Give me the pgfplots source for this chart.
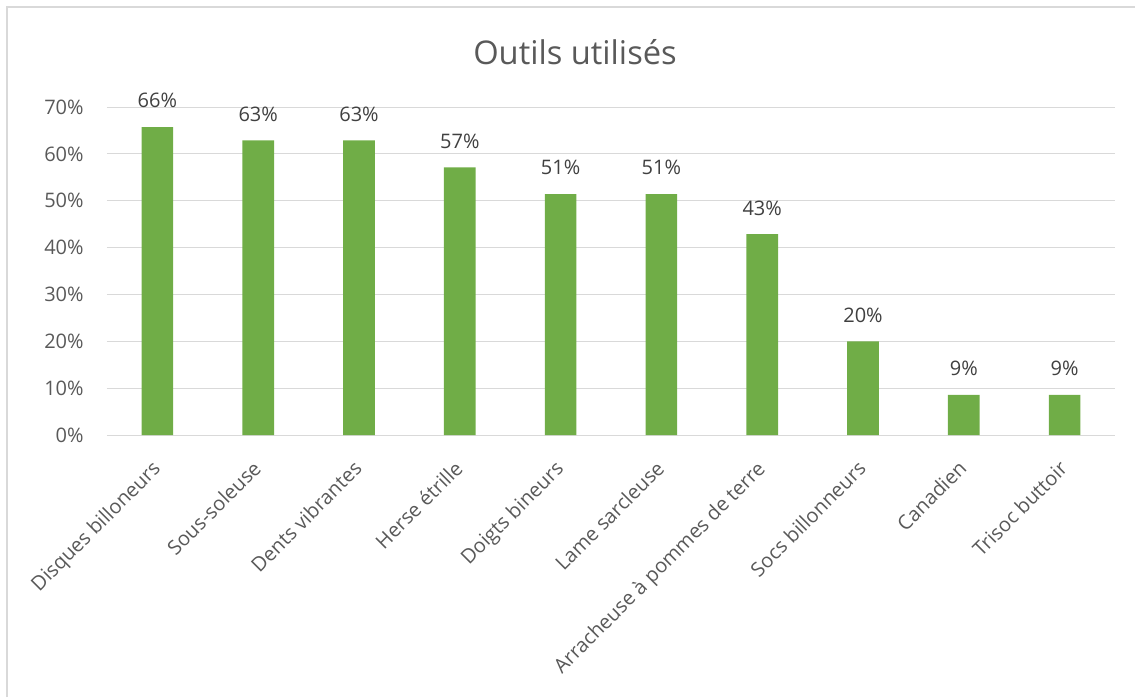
\documentclass[border=0pt]{standalone}
\usepackage{fontspec}
\setmainfont{Open Sans}
\usepackage{pgfplots}
\pgfplotsset{compat=1.18}
\definecolor{bargreen}{HTML}{70AD47}
\definecolor{txtgray}{HTML}{595959}
\definecolor{lblgray}{HTML}{404040}
\definecolor{gridgray}{HTML}{D9D9D9}
\begin{document}
\begin{tikzpicture}
% 1 px = 0.75pt; axis south-west corner at origin (ref pixel 107,435)
\path[use as bounding box] (-80.25pt,-196.5pt) rectangle (771pt,326.25pt);
\draw[gridgray, line width=1.5pt] (-75pt,-196.5pt) -- (-75pt,321pt) -- (771pt,321pt);
\node[txtgray, font=\fontsize{24.5}{28}\selectfont] at (351pt,287.25pt) {Outils utilisés};
\begin{axis}[
  scale only axis, width=756pt, height=246pt,
  xmin=-0.5, xmax=9.5, ymin=0, ymax=70,
  ybar, bar width=23.75pt,
  xtick={0,...,9},
  xticklabels={Disques billoneurs,Sous-soleuse,Dents vibrantes,Herse étrille,Doigts bineurs,Lame sarcleuse,Arracheuse à pommes de terre,Socs billonneurs,Canadien,Trisoc buttoir},
  ytick={0,10,...,70},
  yticklabel={\pgfmathprintnumber{\tick}\%},
  /pgf/number format/assume math mode=true,
  ymajorgrids, major grid style={gridgray, line width=0.75pt},
  axis line style={draw=none},
  major tick length=0pt,
  yticklabel style={txtgray, font=\fontsize{15}{18}\selectfont, xshift=-14pt},
  xticklabel style={txtgray, font=\fontsize{15}{18}\selectfont, xshift=-5pt, yshift=-18pt, rotate=45, anchor=north east, inner sep=0pt},
  nodes near coords={\pgfmathprintnumber[fixed,precision=0]{\pgfplotspointmeta}\%},
  nodes near coords style={lblgray, font=\fontsize{15}{18}\selectfont, anchor=south, inner sep=0pt, yshift=14pt},
]
\addplot[fill=bargreen, draw=none] coordinates {
(0,65.71) (1,62.86) (2,62.86) (3,57.14) (4,51.43) (5,51.43) (6,42.86) (7,20.00) (8,8.57) (9,8.57)};
\end{axis}
\end{tikzpicture}
\end{document}
